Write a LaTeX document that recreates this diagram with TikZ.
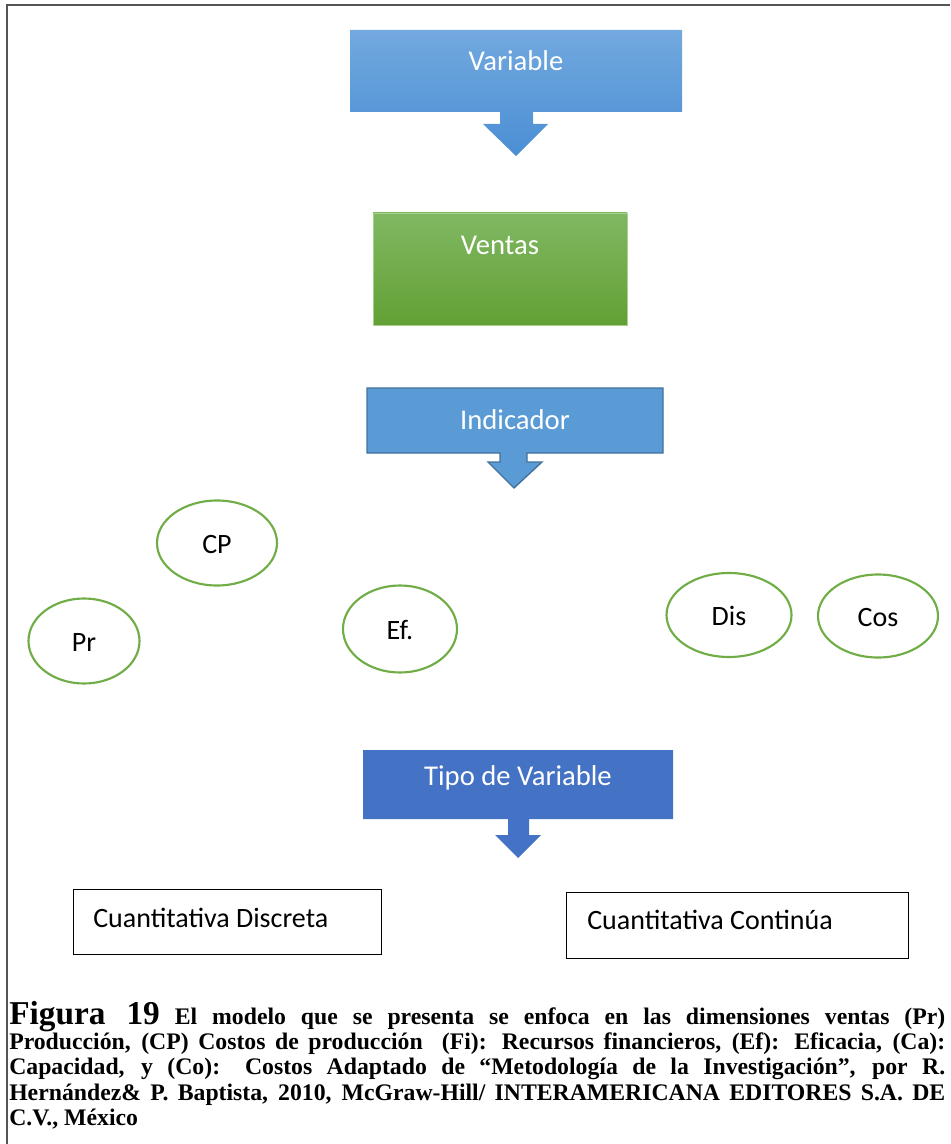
\documentclass[tikz,border=0pt]{standalone}
\usepackage{fontspec}
\setmainfont{Carlito}
\newfontfamily\capfont{Liberation Serif}
\usetikzlibrary{shapes.geometric}
\definecolor{varTop}{HTML}{72A9DF}
\definecolor{varBot}{HTML}{4B8ED4}
\definecolor{venTop}{HTML}{80B862}
\definecolor{venBot}{HTML}{62A034}
\definecolor{venEdge}{HTML}{A9D18E}
\definecolor{indFill}{HTML}{5B9BD5}
\definecolor{indEdge}{HTML}{41719C}
\definecolor{tipFill}{HTML}{4472C4}
\definecolor{ellEdge}{HTML}{70AD47}
\definecolor{frameCol}{HTML}{555555}
\tikzset{
  lbl/.style={font=\fontsize{21.5pt}{24pt}\selectfont, text=white, inner sep=0pt},
  dimlbl/.style={font=\fontsize{21pt}{24pt}\selectfont, text=black, inner sep=0pt},
  dimell/.style={draw=ellEdge, line width=1.6pt, ellipse, inner sep=0pt},
  typebox/.style={draw=black, line width=0.8pt, inner sep=0pt, anchor=north west},
}
\begin{document}
\begin{tikzpicture}[x=0.75pt, y=-0.75pt]
\useasboundingbox (0,0) rectangle (950,1144);
% frame
\draw[frameCol, line width=1.6pt] (7,1144) -- (7,5) -- (950,5);
% Variable
\shade[top color=varTop, bottom color=varBot]
  (350,30) -- (682,30) -- (682,112) -- (533,112) -- (533,124) -- (548,124)
  -- (516,156) -- (483,124) -- (500,124) -- (500,112) -- (350,112) -- cycle;
\node[lbl] (variable) at (516,61) {Variable};
% Ventas
\shade[top color=venTop, bottom color=venBot] (373,213) rectangle (627,325);
\draw[venEdge, line width=0.6pt] (373,213) rectangle (627,325);
\node[lbl] (ventas) at (500,245) {Ventas};
% Indicador
\draw[indEdge, fill=indFill, line width=1pt]
  (367,388) -- (663,388) -- (663,453) -- (527,453) -- (527,462) -- (542,462)
  -- (514,488) -- (488,462) -- (500,462) -- (500,453) -- (367,453) -- cycle;
\node[lbl] (indicador) at (515,420) {Indicador};
% ellipses
\node[dimell, minimum width=120*0.75pt, minimum height=85*0.75pt] (cp) at (217,543) {};
\node[dimlbl] (cpt) at (217,545) {CP};
\node[dimell, minimum width=111*0.75pt, minimum height=85*0.75pt] (pr) at (84,641) {};
\node[dimlbl] (prt) at (84,643) {Pr};
\node[dimell, minimum width=114*0.75pt, minimum height=87*0.75pt] (ef) at (400,629) {};
\node[dimlbl] (eft) at (400,630) {Ef.};
\node[dimell, minimum width=125*0.75pt, minimum height=84*0.75pt] (dis) at (729,615) {};
\node[dimlbl] (dist) at (729,616) {Dis};
\node[dimell, minimum width=120*0.75pt, minimum height=83*0.75pt] (cos) at (878,616) {};
\node[dimlbl] (cost) at (878,618) {Cos};
% Tipo de Variable
\fill[tipFill]
  (363,750) -- (673,750) -- (673,819) -- (529,819) -- (529,835) -- (541,835)
  -- (518,858) -- (495,835) -- (508,835) -- (508,819) -- (363,819) -- cycle;
\node[lbl] (tipo) at (518,778) {Tipo de Variable};
% type boxes
\node[typebox, minimum width=308*0.75pt, minimum height=65*0.75pt] (disc) at (73,889) {};
\node[dimlbl, anchor=west] (disct) at (93,918) {Cuantitativa Discreta};
\node[typebox, minimum width=342*0.75pt, minimum height=66*0.75pt] (cont) at (566,892) {};
\node[dimlbl, anchor=west] (contt) at (587,920) {Cuantitativa Continúa};
% caption
\node[anchor=base west, inner sep=0pt] (caption) at (9,1024) {%
  \parbox[t]{702pt}{\capfont\bfseries\fontsize{17.8pt}{19.1pt}\selectfont
  \lineskiplimit=-10pt
  {\fontsize{25pt}{19.1pt}\selectfont Figura 19} El modelo que se presenta se enfoca en las dimensiones ventas (Pr)\linebreak
  Producción, (CP) Costos de producción~ (Fi): Recursos financieros, (Ef): Eficacia, (Ca):\linebreak
  Capacidad, y (Co): Costos Adaptado de “Metodología de la Investigación”, por R.\linebreak
  Hernández\& P. Baptista, 2010, McGraw-Hill/ INTERAMERICANA EDITORES S.A. DE\linebreak
  C.V., México\par}};
\end{tikzpicture}
\end{document}
